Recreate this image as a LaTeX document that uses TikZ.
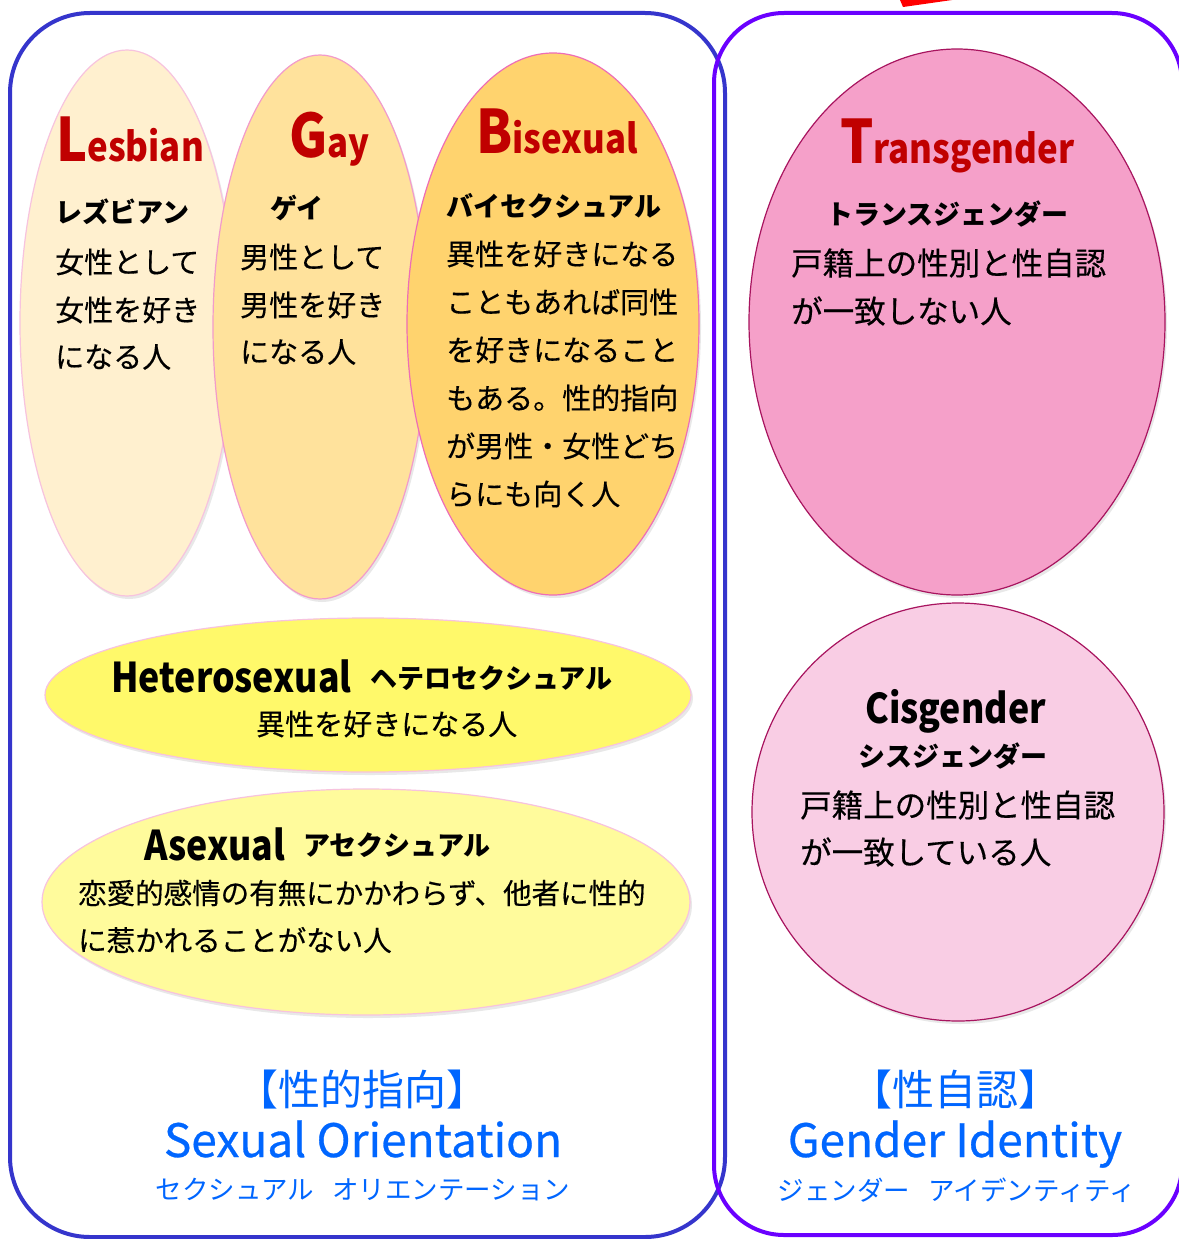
\documentclass[tikz,border=0pt]{standalone}
\usepackage{fontspec}
\usepackage{graphicx}
\setmainfont{Noto Sans CJK JP}
\newfontfamily\medfont[FakeBold=0.6]{Noto Sans CJK JP}
\newfontfamily\bodyfont[FakeBold=0.35]{Noto Sans CJK JP}
\usetikzlibrary{shapes.geometric,shadows}
\definecolor{leftline}{HTML}{3535CC}
\definecolor{rightline}{HTML}{6A00FF}
\definecolor{lesfill}{HTML}{FFF0CF}
\definecolor{gayfill}{HTML}{FFE29C}
\definecolor{bifill}{HTML}{FFD36E}
\definecolor{transfill}{HTML}{F5A0C9}
\definecolor{cisfill}{HTML}{F9CDE4}
\definecolor{heterofill}{HTML}{FFF96A}
\definecolor{asefill}{HTML}{FFFB9C}
\definecolor{lightpink}{HTML}{F7C3DE}
\definecolor{midpink}{HTML}{F29BCB}
\definecolor{hotpink}{HTML}{EE6DB6}
\definecolor{plum}{HTML}{A8145F}
\definecolor{titlered}{HTML}{C00000}
\definecolor{labelblue}{HTML}{0066FF}
\tikzset{
 blob/.style={ellipse, inner sep=0pt, line width=1.2pt, drop shadow={opacity=0.18, shadow xshift=2pt, shadow yshift=-3pt}},
 jtxt/.style={anchor=west, inner sep=0pt, text=black, font=\bodyfont\fontsize{29}{29}\selectfont},
 jbold/.style={anchor=west, inner sep=0pt, text=black, font=\bfseries\fontsize{27}{27}\selectfont},
 redtitle/.style={anchor=base west, inner sep=0pt, text=titlered, font=\bfseries},
 etitle/.style={anchor=base west, inner sep=0pt, text=black, font=\bfseries\fontsize{41}{41}\selectfont},
 bluelabel/.style={inner sep=0pt, text=labelblue},
 panel/.style={line width=4pt, rounded corners=80pt},
}
\newcommand{\capsz}[1]{{\fontsize{60}{60}\selectfont #1}}
\newcommand{\restsz}[1]{{\fontsize{40}{40}\selectfont #1}}
\newcommand{\narrow}[1]{\scalebox{0.87}[1]{#1}}
\begin{document}
\begin{tikzpicture}[x=1pt,y=-1pt]
\useasboundingbox (0,0) rectangle (1178,1239);
\fill[white] (0,0) rectangle (1178,1239);
% red fragment at top
\fill[red] (900,0) -- (903,7) -- (952,0) -- cycle;
% panels
\draw[panel, leftline] (10,13) rectangle (725,1237);
\draw[panel, rightline, rounded corners=70pt] (714,13) rectangle (1182,1235);
% ellipses
\node[blob, fill=lesfill, draw=lightpink, minimum width=214pt, minimum height=546pt] (les) at (127,323) {};
\node[blob, fill=gayfill, draw=midpink, minimum width=214pt, minimum height=544pt] (gay) at (320,327) {};
\node[blob, fill=bifill, draw=hotpink, minimum width=292pt, minimum height=542pt] (bi) at (553,324) {};
\node[blob, fill=transfill, draw=plum, minimum width=416pt, minimum height=546pt] (trans) at (957,322) {};
\node[blob, fill=cisfill, draw=plum, minimum width=412pt, minimum height=418pt] (cis) at (958,812) {};
\node[blob, fill=heterofill, draw=lightpink, minimum width=646pt, minimum height=154pt] (hetero) at (368,695) {};
\node[blob, fill=asefill, draw=lightpink, minimum width=648pt, minimum height=226pt] (ase) at (366,902) {};
% Lesbian
\node[redtitle] (lesT) at (56,161) {\narrow{\capsz{L}\restsz{esbian}}};
\node[jbold] (les0) at (55,212) {レズビアン};
\node[jtxt] (les1) at (55,262) {女性として};
\node[jtxt] (les2) at (55,310) {女性を好き};
\node[jtxt] (les3) at (55,357) {になる人};
% Gay
\node[redtitle] (gayT) at (289,157) {\narrow{\capsz{G}\restsz{ay}}};
\node[jbold] (gay0) at (270,208) {ゲイ};
\node[jtxt] (gay1) at (240,257) {男性として};
\node[jtxt] (gay2) at (240,305) {男性を好き};
\node[jtxt] (gay3) at (240,352) {になる人};
% Bisexual
\node[redtitle] (biT) at (476,153) {\narrow{\capsz{B}\restsz{isexual}}};
\node[jbold] (bi0) at (446,206) {バイセクシュアル};
\node[jtxt] (bi1) at (446,254) {異性を好きになる};
\node[jtxt] (bi2) at (446,302) {こともあれば同性};
\node[jtxt] (bi3) at (446,350) {を好きになること};
\node[jtxt] (bi4) at (446,398) {もある。性的指向};
\node[jtxt] (bi5) at (446,446) {が男性・女性どち};
\node[jtxt] (bi6) at (446,494) {らにも向く人};
% Transgender
\node[redtitle] (transT) at (840,163) {\narrow{\capsz{T}\restsz{ransgender}}};
\node[jbold] (trans0) at (826,214) {トランスジェンダー};
\node[jtxt, font=\bodyfont\fontsize{31.5}{31.5}\selectfont] (trans1) at (791,263) {戸籍上の性別と性自認};
\node[jtxt, font=\bodyfont\fontsize{31.5}{31.5}\selectfont] (trans2) at (791,311) {が一致しない人};
% Heterosexual
\node[etitle] (heteroT) at (111,692) {\narrow{Heterosexual}};
\node[jbold] (hetero0) at (370,678) {ヘテロセクシュアル};
\node[jtxt] (hetero1) at (256,724) {異性を好きになる人};
% Asexual
\node[etitle] (aseT) at (144,860) {\narrow{Asexual}};
\node[jbold] (ase0) at (303,845) {アセクシュアル};
\node[jtxt, font=\bodyfont\fontsize{28.5}{28.5}\selectfont] (ase1) at (78,893) {恋愛的感情の有無にかかわらず、他者に性的};
\node[jtxt, font=\bodyfont\fontsize{28.5}{28.5}\selectfont] (ase2) at (78,940) {に惹かれることがない人};
% Cisgender
\node[etitle] (cisT) at (865,723) {\narrow{Cisgender}};
\node[jbold] (cis0) at (858,756) {シスジェンダー};
\node[jtxt, font=\bodyfont\fontsize{31.5}{31.5}\selectfont] (cis1) at (800,805) {戸籍上の性別と性自認};
\node[jtxt, font=\bodyfont\fontsize{31.5}{31.5}\selectfont] (cis2) at (800,852) {が一致している人};
% bottom labels
\node[bluelabel, font=\fontsize{42}{42}\selectfont] (soJ) at (362,1090) {【性的指向】};
\node[bluelabel, anchor=base, font=\medfont\fontsize{46}{46}\selectfont] (soE) at (363,1157) {Sexual Orientation};
\node[bluelabel, font=\fontsize{26.5}{26.5}\selectfont] (soK) at (363,1190) {セクシュアル\hspace{0.7em}オリエンテーション};
\node[bluelabel, font=\fontsize{42}{42}\selectfont] (giJ) at (955,1090) {【性自認】};
\node[bluelabel, anchor=base, font=\medfont\fontsize{46}{46}\selectfont] (giE) at (955,1157) {Gender Identity};
\node[bluelabel, font=\fontsize{26.5}{26.5}\selectfont] (giK) at (957,1190) {ジェンダー\hspace{0.7em}アイデンティティ};
\end{tikzpicture}
\end{document}
